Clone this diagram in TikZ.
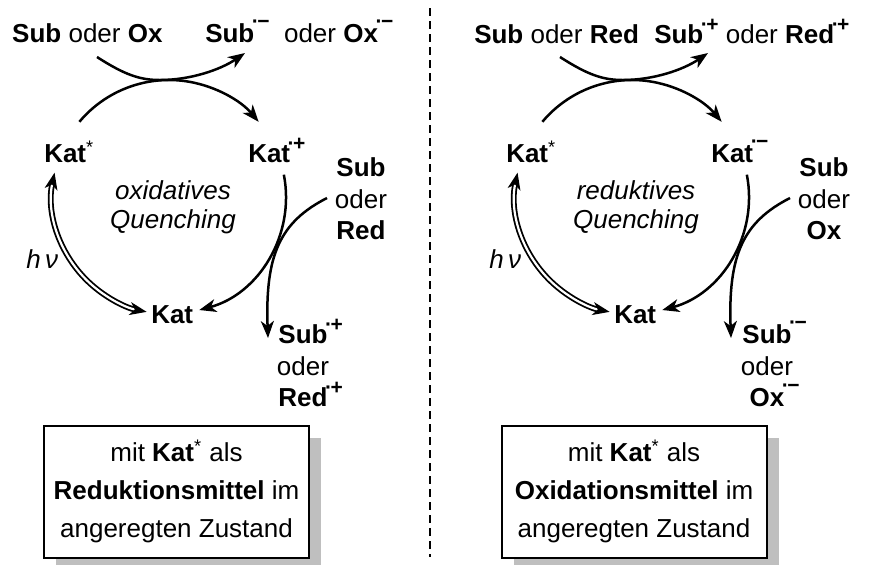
\documentclass[tikz,border=0pt]{standalone}
\usepackage{fontspec}
\setmainfont{Liberation Sans}
\usetikzlibrary{arrows.meta,shadows}
\newcommand{\radplus}{\smash{\raisebox{6pt}{\fontsize{10.5}{12}\selectfont\bfseries\kern-1.2pt·\kern-0.8pt+}}}
\newcommand{\radminus}{\smash{\raisebox{7pt}{\fontsize{10.5}{12}\selectfont\bfseries\kern-1.2pt·\kern-0.8pt−}}}
\tikzset{
  lbl/.style={inner sep=0pt, font=\fontsize{13}{15.5}\selectfont},
  stack/.style={lbl, align=center, font=\fontsize{13}{15.75}\selectfont},
  quench/.style={lbl, align=center, font=\fontsize{13}{14.5}\selectfont\itshape},
  infobox/.style={draw, line width=1pt, fill=white, align=center, inner sep=0pt,
    minimum width=132.5pt, minimum height=66pt, font=\fontsize{13}{19}\selectfont,
    drop shadow={shadow xshift=6pt, shadow yshift=-6pt, fill=black!25, opacity=1}}
}
\begin{document}
\begin{tikzpicture}[x=0.5pt,y=-0.5pt,>={Stealth[length=8.5pt,width=6.5pt,inset=2.5pt]},line width=1.25pt]
\useasboundingbox (0,0) rectangle (883,564);

% oxidatives Quenching
\node[lbl, anchor=base west] (subox) at (11,42) {\textbf{Sub} oder \textbf{Ox}};
\node[lbl, anchor=base west] (subrad) at (204,42) {\textbf{Sub}\radminus\ \ oder \textbf{Ox}\radminus};
\node[lbl, anchor=base west] (katex) at (43,162) {\textbf{Kat}\textsuperscript{*}};
\node[lbl, anchor=base west] (katox) at (247,162) {\textbf{Kat}\radplus};
\node[stack, anchor=south] (donor) at (361,241) {\textbf{Sub}\\oder\\\textbf{Red}};
\node[quench, anchor=north] (oxq) at (173,179) {oxidatives\\Quenching};
\node[lbl, anchor=base west] (hvL) at (25,268) {\itshape h\,ν};
\node[lbl, anchor=base west] (katL) at (150,323) {\textbf{Kat}};
\node[stack, anchor=south] (donrad) at (303,408) {\textbf{Sub}\rlap{\radplus}\\oder\\\textbf{Red}\rlap{\radplus}};
\node[infobox] (boxL) at (176.5,491.5) {mit \textbf{Kat}\textsuperscript{*} als\\\textbf{Reduktionsmittel} im\\angeregten Zustand};

% reduktives Quenching
\node[lbl, anchor=base west] (subred) at (473,43) {\textbf{Sub} oder \textbf{Red}};
\node[lbl, anchor=base west] (subradR) at (653,43) {\textbf{Sub}\radplus\ oder \textbf{Red}\radplus};
\node[lbl, anchor=base west] (katexR) at (505,162) {\textbf{Kat}\textsuperscript{*}};
\node[lbl, anchor=base west] (katred) at (710,162) {\textbf{Kat}\radminus};
\node[stack, anchor=south] (acceptor) at (824,241) {\textbf{Sub}\\oder\\\textbf{Ox}};
\node[quench, anchor=north] (redq) at (636,179) {reduktives\\Quenching};
\node[lbl, anchor=base west] (hvR) at (488,268) {\itshape h\,ν};
\node[lbl, anchor=base west] (katR) at (613,323) {\textbf{Kat}};
\node[stack, anchor=south] (accrad) at (767,408) {\textbf{Sub}\rlap{\radminus}\\oder\\\textbf{Ox}\rlap{\radminus}};
\node[infobox] (boxR) at (634,491.5) {mit \textbf{Kat}\textsuperscript{*} als\\\textbf{Oxidationsmittel} im\\angeregten Zustand};

% cycles
\foreach \dx/\p in {0/L,463/R}
{
  \begin{scope}[shift={(\dx,0)}]
    \coordinate (cyc\p) at (169,197);
    \draw[->] (cyc\p) ++(-140:117) arc[start angle=-140, end angle=-40, radius=117];
    \draw[->] (cyc\p) ++(-11:117) arc[start angle=-11, end angle=75, radius=117];
    \draw[<->, double, double distance=1.1pt, line width=0.9pt]
      (cyc\p) ++(-168:117) arc[start angle=-168, end angle=-259, radius=117];
    \draw[->] (97,57) .. controls (125,75) and (140,80) .. (160,80)
      .. controls (190,80) and (220,70) .. (245,53);
    \draw[->] (327,198) .. controls (280,222) and (265,255) .. (268,338);
  \end{scope}
}

\draw[line width=1pt, dash pattern=on 4pt off 2.5pt] (430,8) -- (430,557);

\end{tikzpicture}
\end{document}
